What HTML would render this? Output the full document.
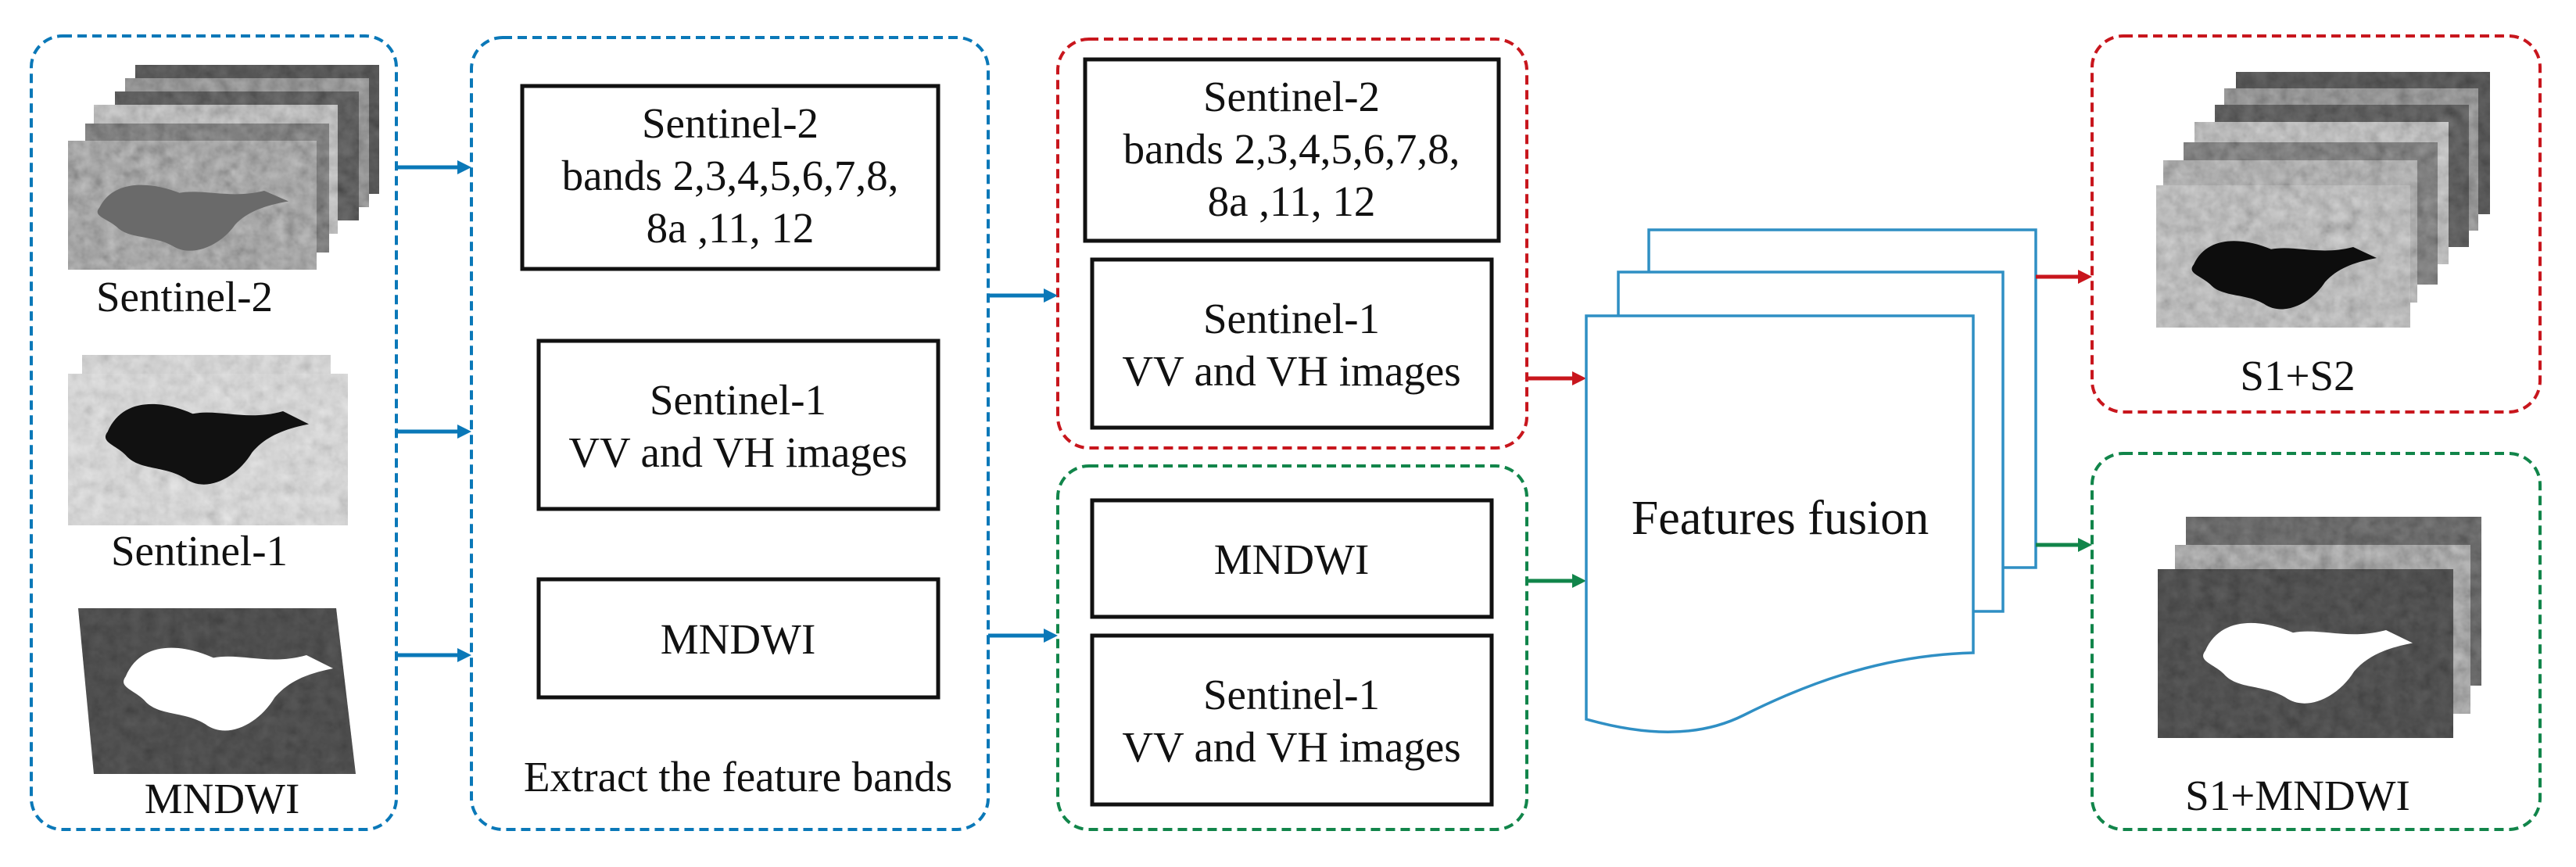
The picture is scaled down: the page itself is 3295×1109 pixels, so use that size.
<!DOCTYPE html>
<html><head><meta charset="utf-8"><style>
html,body{margin:0;padding:0;background:#fff;}
svg{display:block;}
svg text{font-family:"Liberation Serif","DejaVu Serif",serif;fill:#111;}
</style></head><body>
<svg width="3295" height="1109" viewBox="0 0 3295 1109" xmlns="http://www.w3.org/2000/svg" font-family="Liberation Serif, DejaVu Serif, serif" style="font-family:'Liberation Serif','DejaVu Serif',serif">
<defs>
<filter id="nz" x="0" y="0" width="1" height="1">
<feTurbulence type="fractalNoise" baseFrequency="0.06" numOctaves="3" seed="3"/>
<feColorMatrix type="matrix" values="0.33 0.33 0.33 0 0  0.33 0.33 0.33 0 0  0.33 0.33 0.33 0 0  0 0 0 0 1"/>
</filter>
<clipPath id="mclip"><polygon points="100,778 430,778 455,990 120,990"/></clipPath>
<path id="lake" d="M12,28 C18,14 34,16 45,21 C55,19 66,24 80,20 L90,25 C80,27 73,30 68,36 C62,46 50,52 42,46 C34,41 24,43 19,37 C15,33 9,32 12,28Z"/>
</defs>

<g fill="none" stroke-width="4" stroke-dasharray="12,7">
<rect x="40" y="46" width="467" height="1015" rx="40" stroke="#0a78b8"/>
<rect x="603" y="48" width="661" height="1013" rx="40" stroke="#0a78b8"/>
<rect x="1353" y="50" width="600" height="523" rx="40" stroke="#c8161d"/>
<rect x="1353" y="596" width="600" height="465" rx="40" stroke="#11854a"/>
<rect x="2676" y="46" width="573" height="481" rx="40" stroke="#c8161d"/>
<rect x="2676" y="580" width="573" height="481" rx="40" stroke="#11854a"/>
</g>

<g>
<rect x="173" y="83" width="312" height="165" fill="#777" filter="url(#nz)"/><rect x="173" y="83" width="312" height="165" fill="#222" opacity="0.65"/>
<rect x="160" y="100" width="312" height="165" fill="#777" filter="url(#nz)"/><rect x="160" y="100" width="312" height="165" fill="#666" opacity="0.45"/>
<rect x="147" y="117" width="312" height="165" fill="#777" filter="url(#nz)"/><rect x="147" y="117" width="312" height="165" fill="#222" opacity="0.6"/>
<rect x="120" y="134" width="312" height="165" fill="#777" filter="url(#nz)"/><rect x="120" y="134" width="312" height="165" fill="#bbb" opacity="0.45"/>
<rect x="109" y="158" width="312" height="165" fill="#777" filter="url(#nz)"/><rect x="109" y="158" width="312" height="165" fill="#444" opacity="0.5"/>
<rect x="87" y="180" width="318" height="165" fill="#777" filter="url(#nz)"/><rect x="87" y="180" width="318" height="165" fill="#888" opacity="0.4"/>
<use href="#lake" transform="translate(90,190) scale(3.1,2.7)" fill="#6a6a6a"/>
</g>

<rect x="105" y="454" width="318" height="190" fill="#888" filter="url(#nz)"/><rect x="105" y="454" width="318" height="190" fill="#ddd" opacity="0.6"/>
<rect x="87" y="478" width="358" height="194" fill="#888" filter="url(#nz)"/><rect x="87" y="478" width="358" height="194" fill="#e4e4e4" opacity="0.6"/>
<use href="#lake" transform="translate(98,460) scale(3.3,3.3)" fill="#111"/>

<g clip-path="url(#mclip)">
<rect x="100" y="778" width="355" height="212" fill="#555" filter="url(#nz)"/>
<rect x="100" y="778" width="355" height="212" fill="#2a2a2a" opacity="0.75"/>
</g>
<use href="#lake" transform="translate(120,770) scale(3.4,3.4)" fill="#fff"/>

<g stroke="#0a78b8" stroke-width="5" fill="#0a78b8">
<line x1="507" y1="214" x2="590" y2="214"/><path d="M603,214 L585,205 L585,223Z" stroke="none"/>
<line x1="507" y1="552" x2="590" y2="552"/><path d="M603,552 L585,543 L585,561Z" stroke="none"/>
<line x1="507" y1="838" x2="590" y2="838"/><path d="M603,838 L585,829 L585,847Z" stroke="none"/>
<line x1="1264" y1="378" x2="1340" y2="378"/><path d="M1353,378 L1335,369 L1335,387Z" stroke="none"/>
<line x1="1264" y1="813" x2="1340" y2="813"/><path d="M1353,813 L1335,804 L1335,822Z" stroke="none"/>
</g>

<g fill="#fff" stroke="#111" stroke-width="5">
<rect x="668" y="110" width="532" height="234"/>
<rect x="689" y="436" width="511" height="215"/>
<rect x="689" y="741" width="511" height="151"/>
<rect x="1388" y="76" width="529" height="232"/>
<rect x="1397" y="332" width="511" height="215"/>
<rect x="1397" y="640" width="511" height="149"/>
<rect x="1397" y="813" width="511" height="216"/>
</g>
<g font-size="55" text-anchor="middle" style="font-family:'Liberation Serif','DejaVu Serif',serif" fill="#111">
<text x="236" y="398">Sentinel-2</text>
<text x="255" y="723">Sentinel-1</text>
<text x="284" y="1040">MNDWI</text>
<text x="934" y="176">Sentinel-2</text>
<text x="934" y="243">bands 2,3,4,5,6,7,8,</text>
<text x="934" y="310">8a ,11, 12</text>
<text x="944" y="530">Sentinel-1</text>
<text x="944" y="597">VV and VH images</text>
<text x="944" y="836">MNDWI</text>
<text x="944" y="1012">Extract the feature bands</text>
<text x="1652" y="142">Sentinel-2</text>
<text x="1652" y="209">bands 2,3,4,5,6,7,8,</text>
<text x="1652" y="276">8a ,11, 12</text>
<text x="1652" y="426">Sentinel-1</text>
<text x="1652" y="493">VV and VH images</text>
<text x="1652" y="734">MNDWI</text>
<text x="1652" y="907">Sentinel-1</text>
<text x="1652" y="974">VV and VH images</text>
</g>

<line x1="1953" y1="484" x2="2015" y2="484" stroke="#c8161d" stroke-width="5"/><path d="M2029,484 L2011,475 L2011,493Z" fill="#c8161d"/>
<line x1="1953" y1="743" x2="2015" y2="743" stroke="#11854a" stroke-width="5"/><path d="M2029,743 L2011,734 L2011,752Z" fill="#11854a"/>

<g fill="#fff" stroke="#2f8fc4" stroke-width="3.5">
<rect x="2109" y="294" width="495" height="432"/>
<rect x="2070" y="348" width="492" height="434"/>
<path d="M2029,404 L2524,404 L2524,835 C2400,838 2300,880 2230,915 C2170,945 2100,940 2029,920 Z"/>
</g>

<line x1="2604" y1="354" x2="2662" y2="354" stroke="#c8161d" stroke-width="5"/><path d="M2676,354 L2658,345 L2658,363Z" fill="#c8161d"/>
<line x1="2604" y1="697" x2="2662" y2="697" stroke="#11854a" stroke-width="5"/><path d="M2676,697 L2658,688 L2658,706Z" fill="#11854a"/>

<g>
<rect x="2860" y="92" width="325" height="182" fill="#777" filter="url(#nz)"/><rect x="2860" y="92" width="325" height="182" fill="#222" opacity="0.65"/>
<rect x="2845" y="113" width="325" height="182" fill="#777" filter="url(#nz)"/><rect x="2845" y="113" width="325" height="182" fill="#666" opacity="0.45"/>
<rect x="2833" y="134" width="325" height="182" fill="#777" filter="url(#nz)"/><rect x="2833" y="134" width="325" height="182" fill="#222" opacity="0.6"/>
<rect x="2807" y="156" width="325" height="182" fill="#777" filter="url(#nz)"/><rect x="2807" y="156" width="325" height="182" fill="#bbb" opacity="0.45"/>
<rect x="2793" y="182" width="325" height="182" fill="#777" filter="url(#nz)"/><rect x="2793" y="182" width="325" height="182" fill="#444" opacity="0.5"/>
<rect x="2767" y="205" width="325" height="182" fill="#777" filter="url(#nz)"/><rect x="2767" y="205" width="325" height="182" fill="#999" opacity="0.4"/>
<rect x="2758" y="237" width="325" height="182" fill="#888" filter="url(#nz)"/><rect x="2758" y="237" width="325" height="182" fill="#bbb" opacity="0.45"/>
<use href="#lake" transform="translate(2770,260) scale(3.0,2.8)" fill="#0d0d0d"/>
</g>

<g>
<rect x="2796" y="661" width="378" height="216" fill="#666" filter="url(#nz)"/><rect x="2796" y="661" width="378" height="216" fill="#333" opacity="0.6"/>
<rect x="2782" y="697" width="378" height="216" fill="#777" filter="url(#nz)"/><rect x="2782" y="697" width="378" height="216" fill="#888" opacity="0.4"/>
<rect x="2760" y="728" width="378" height="216" fill="#555" filter="url(#nz)"/><rect x="2760" y="728" width="378" height="216" fill="#222" opacity="0.7"/>
<use href="#lake" transform="translate(2780,740) scale(3.4,3.3)" fill="#fff"/>
</g>
<g font-size="55" text-anchor="middle" style="font-family:'Liberation Serif','DejaVu Serif',serif" fill="#111">
<text x="2277" y="683" font-size="62">Features fusion</text>
<text x="2939" y="499">S1+S2</text>
<text x="2939" y="1036">S1+MNDWI</text>
</g>
</svg>
</body></html>
